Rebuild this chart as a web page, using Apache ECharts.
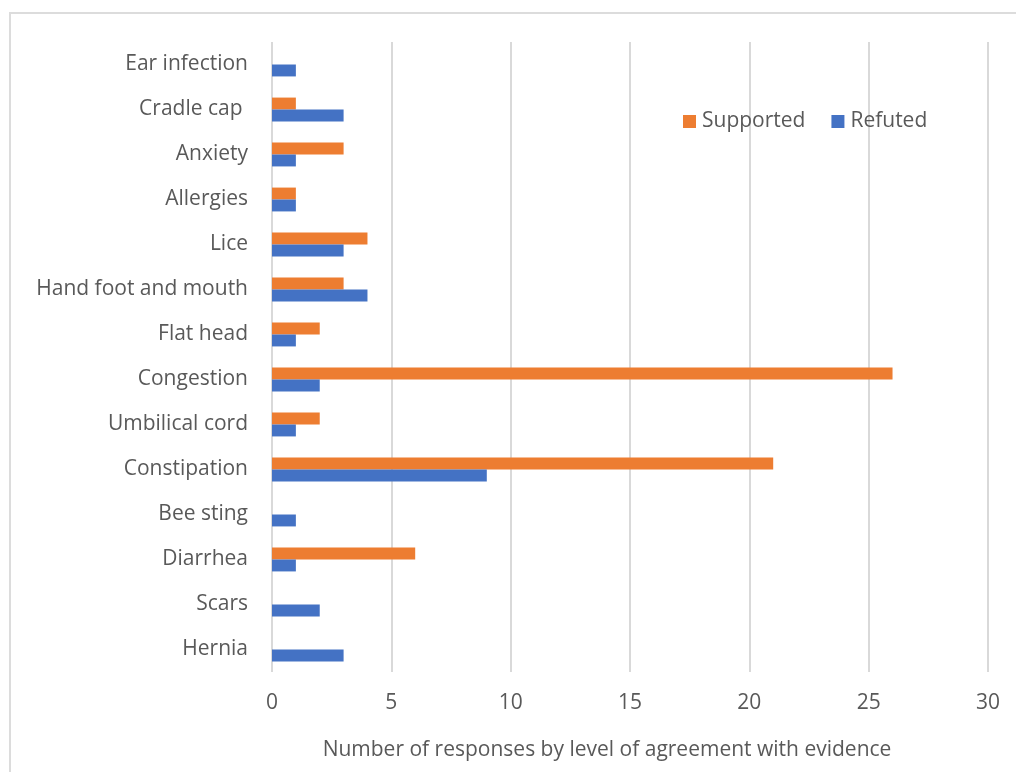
<!DOCTYPE html>
<html>
<head>
<meta charset="utf-8">
<script src="https://cdn.jsdelivr.net/npm/echarts@6/dist/echarts.min.js"></script>
<style>
  html, body { margin: 0; padding: 0; background: #fff; }
  #frame { position: absolute; left: 9px; top: 12px; width: 1020px; height: 780px; border: 2px solid #dcdcdc; box-sizing: border-box; }
  #abc { position: absolute; left: 0; top: 0; width: 1016px; height: 772px; }
</style>
</head>
<body>
<div id="frame"></div>
<div id="abc"></div>
<script>
// categories, top to bottom
let categories = ['Ear infection', 'Cradle cap ', 'Anxiety', 'Allergies', 'Lice', 'Hand foot and mouth',
    'Flat head', 'Congestion', 'Umbilical cord', 'Constipation', 'Bee sting', 'Diarrhea', 'Scars', 'Hernia']

let supported = [0, 1, 3, 1, 4, 3, 2, 26, 2, 21, 0, 6, 0, 0]
let refuted = [1, 3, 1, 1, 3, 4, 1, 2, 1, 9, 1, 1, 2, 3]

let xTicks = [0, 5, 10, 15, 20, 25, 30]

let myChart = echarts.init(document.getElementById('abc'))

let font = 'Open Sans'

let option = {
    animation: false,
    textStyle: { fontFamily: font },
    grid: {
        left: 272,
        right: 28,
        top: 42,
        bottom: 100
    },
    legend: {
        data: ['Supported', 'Refuted'],
        left: 683,
        top: 111,
        padding: 0,
        itemWidth: 13,
        itemHeight: 13,
        itemGap: 26,
        icon: 'rect',
        textStyle: { fontSize: 21, color: '#595959', fontFamily: font, padding: [0, 0, 0, 1] }
    },
    xAxis: {
        type: 'value',
        min: xTicks[0],
        max: xTicks[xTicks.length - 1],
        interval: 5,
        name: 'Number of responses by level of agreement with evidence',
        nameLocation: 'middle',
        nameGap: 68,
        nameTextStyle: { fontSize: 21, color: '#595959', fontFamily: font, padding: [0, 46, 0, 0] },
        axisLine: { show: false },
        axisTick: { show: false },
        axisLabel: { fontSize: 21, color: '#595959', margin: 21 },
        splitLine: { lineStyle: { color: '#d9d9d9', width: 2 } }
    },
    yAxis: {
        type: 'category',
        inverse: true,
        data: categories,
        axisLine: { show: false },
        axisTick: { show: false },
        axisLabel: { fontSize: 21, color: '#595959', margin: 24 },
        splitLine: { show: false }
    },
    series: [
        {
            name: 'Supported',
            type: 'bar',
            data: supported,
            itemStyle: { color: '#ED7D31' },
            barGap: '0%',
            barCategoryGap: '47%'
        },
        {
            name: 'Refuted',
            type: 'bar',
            data: refuted,
            itemStyle: { color: '#4472C4' },
            barGap: '0%',
            barCategoryGap: '47%'
        }
    ]
}

myChart.setOption(option)
</script>
</body>
</html>
